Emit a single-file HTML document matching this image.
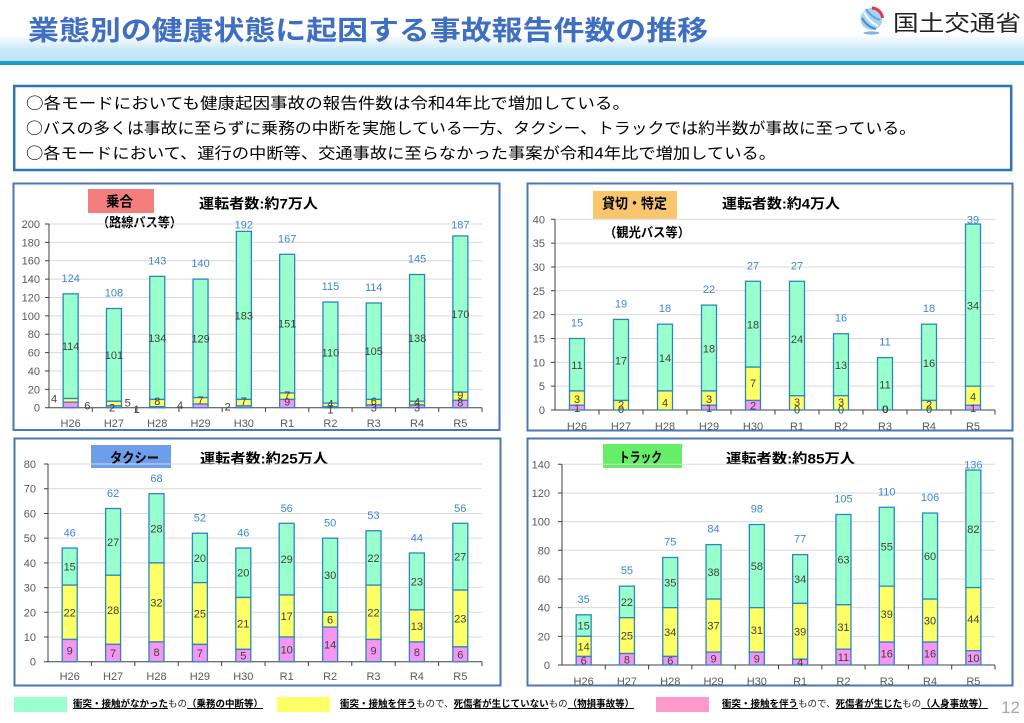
<!DOCTYPE html>
<html lang="ja">
<head>
<meta charset="utf-8">
<style>
html,body{margin:0;padding:0;background:#fff;}
body{width:1024px;height:723px;position:relative;overflow:hidden;font-family:"Liberation Sans","Noto Sans CJK JP",sans-serif;}
svg{position:absolute;left:0;top:0;}
.g{fill:#99ffcc;stroke:#2e86c1;stroke-width:1.3}
.y{fill:#ffff66;stroke:#2e86c1;stroke-width:1.3}
.p{fill:#f596f0;stroke:#2e86c1;stroke-width:1.3}
.grid{stroke:#d9d9d9;stroke-width:1}
.ax{stroke:#404040;stroke-width:1;fill:none}
.tk{font-family:"Liberation Sans",sans-serif;font-size:11px;fill:#595959;text-anchor:end}
.cat{font-family:"Liberation Sans",sans-serif;font-size:11px;fill:#595959;text-anchor:middle}
.dl{font-family:"Liberation Sans",sans-serif;font-size:11px;fill:#404040;text-anchor:middle}
.tot{font-family:"Liberation Sans",sans-serif;font-size:11px;fill:#3d87d0;text-anchor:middle}
.hd{font-family:"Liberation Sans","Noto Sans CJK JP",sans-serif;font-weight:bold;fill:#000}
.panel{fill:none;stroke:#4a78b0;stroke-width:2}
.leg{position:absolute;font-family:"Liberation Sans","Noto Sans CJK JP",sans-serif;font-size:9.5px;line-height:13px;white-space:nowrap;color:#222;}
.leg b{text-decoration:underline;color:#000;}
.sw{position:absolute;height:15px;width:53px;}
.circ{font-family:"Noto Sans CJK JP",sans-serif;}
</style>
</head>
<body>
<svg width="1024" height="723" viewBox="0 0 1024 723" xmlns="http://www.w3.org/2000/svg">
<defs>
<linearGradient id="band" x1="0" y1="0" x2="0" y2="1">
<stop offset="0" stop-color="#ffffff"/>
<stop offset="0.35" stop-color="#e2f2fb"/>
<stop offset="0.6" stop-color="#c6e8f7"/>
<stop offset="1" stop-color="#bde5f5"/>
</linearGradient>
</defs>

<!-- header -->
<rect x="0" y="34" width="1024" height="27" fill="url(#band)"/>
<rect x="0" y="61" width="1024" height="4" fill="#1b9fd3"/>
<text x="28" y="39.8" font-size="27" font-weight="bold" fill="#3f6fc2" textLength="680" lengthAdjust="spacingAndGlyphs" style="font-family:'Liberation Sans','Noto Sans CJK JP',sans-serif">業態別の健康状態に起因する事故報告件数の推移</text>

<!-- logo -->
<circle cx="871.5" cy="19" r="11" fill="#a9d2f2"/>
<path d="M864 12 Q869 22 878 26" stroke="#ffffff" stroke-width="2" fill="none"/>
<path d="M862 18 Q867 27 876 29" stroke="#3f8fd8" stroke-width="2" fill="none"/>
<path d="M866 9 Q871 17 880 20" stroke="#5aa6e6" stroke-width="2" fill="none"/>
<path d="M872 8 A11 11 0 0 1 882.5 18" stroke="#e5383d" stroke-width="3" fill="none"/>
<ellipse cx="871.5" cy="33" rx="8" ry="1.6" fill="#7ab6e6"/>
<text x="893" y="31" font-size="22" fill="#222" textLength="128" lengthAdjust="spacingAndGlyphs" style="font-family:'Liberation Sans','Noto Sans CJK JP',sans-serif">国土交通省</text>

<!-- summary box -->
<rect x="14.2" y="86" width="997" height="84" fill="#fff" stroke="#2e75b6" stroke-width="2.5"/>
<g style="font-family:'Liberation Sans','Noto Sans CJK JP',sans-serif" font-size="15.5" fill="#000">
<text x="26" y="108.7" textLength="604" lengthAdjust="spacingAndGlyphs"><tspan class="circ">○</tspan>各モードにおいても健康起因事故の報告件数は令和4年比で増加している。</text>
<text x="26" y="133.7" textLength="890" lengthAdjust="spacingAndGlyphs"><tspan class="circ">○</tspan>バスの多くは事故に至らずに乗務の中断を実施している一方、タクシー、トラックでは約半数が事故に至っている。</text>
<text x="26" y="158.7" textLength="750" lengthAdjust="spacingAndGlyphs"><tspan class="circ">○</tspan>各モードにおいて、運行の中断等、交通事故に至らなかった事案が令和4年比で増加している。</text>
</g>

<!-- ================= Chart A: 乗合 ================= -->
<rect class="panel" x="13.5" y="183.5" width="486" height="246.5"/>
<rect x="88" y="189" width="66" height="24" fill="#f47e7e"/>
<text class="hd" x="106" y="206.3" font-size="14" textLength="27" lengthAdjust="spacingAndGlyphs">乗合</text>
<text class="hd" x="199" y="208.3" font-size="14" textLength="119" lengthAdjust="spacingAndGlyphs">運転者数:約7万人</text>
<text class="hd" x="97" y="227" font-size="13" textLength="85" lengthAdjust="spacingAndGlyphs">（路線バス等）</text>
<g>
<line class="grid" x1="49" x2="482" y1="389.33" y2="389.33"/>
<line class="grid" x1="49" x2="482" y1="370.96" y2="370.96"/>
<line class="grid" x1="49" x2="482" y1="352.59" y2="352.59"/>
<line class="grid" x1="49" x2="482" y1="334.22" y2="334.22"/>
<line class="grid" x1="49" x2="482" y1="315.85" y2="315.85"/>
<line class="grid" x1="49" x2="482" y1="297.48" y2="297.48"/>
<line class="grid" x1="49" x2="482" y1="279.11" y2="279.11"/>
<line class="grid" x1="49" x2="482" y1="260.74" y2="260.74"/>
<line class="grid" x1="49" x2="482" y1="242.37" y2="242.37"/>
<line class="grid" x1="49" x2="482" y1="224" y2="224"/>
</g>
<path class="ax" d="M49 224V407.7H482 M45 224H49 M45 242.37H49 M45 260.74H49 M45 279.11H49 M45 297.48H49 M45 315.85H49 M45 334.22H49 M45 352.59H49 M45 370.96H49 M45 389.33H49 M45 407.7H49 M92.3 407.7V412 M135.6 407.7V412 M178.9 407.7V412 M222.2 407.7V412 M265.5 407.7V412 M308.8 407.7V412 M352.1 407.7V412 M395.4 407.7V412 M438.7 407.7V412 M482 407.7V412"/>
<g class="tk">
<text class="tk" x="40" y="411.7">0</text><text class="tk" x="40" y="393.3">20</text><text class="tk" x="40" y="375">40</text><text class="tk" x="40" y="356.6">60</text><text class="tk" x="40" y="338.2">80</text><text class="tk" x="40" y="319.9">100</text><text class="tk" x="40" y="301.5">120</text><text class="tk" x="40" y="283.1">140</text><text class="tk" x="40" y="264.7">160</text><text class="tk" x="40" y="246.4">180</text><text class="tk" x="40" y="228">200</text>
</g>
<!-- bars A -->
<rect class="g" x="63.15" y="293.81" width="15" height="104.71"/><rect class="y" x="63.15" y="398.52" width="15" height="3.67"/><rect class="p" x="63.15" y="402.19" width="15" height="5.51"/>
<rect class="g" x="106.45" y="308.5" width="15" height="92.77"/><rect class="y" x="106.45" y="401.27" width="15" height="4.59"/><rect class="p" x="106.45" y="405.86" width="15" height="1.84"/>
<rect class="g" x="149.75" y="276.35" width="15" height="123.08"/><rect class="y" x="149.75" y="399.43" width="15" height="7.35"/><rect class="p" x="149.75" y="406.78" width="15" height="0.92"/>
<rect class="g" x="193.05" y="279.11" width="15" height="118.49"/><rect class="y" x="193.05" y="397.6" width="15" height="6.43"/><rect class="p" x="193.05" y="404.03" width="15" height="3.67"/>
<rect class="g" x="236.35" y="231.35" width="15" height="168.08"/><rect class="y" x="236.35" y="399.43" width="15" height="6.43"/><rect class="p" x="236.35" y="405.86" width="15" height="1.84"/>
<rect class="g" x="279.65" y="254.31" width="15" height="138.69"/><rect class="y" x="279.65" y="393" width="15" height="6.43"/><rect class="p" x="279.65" y="399.43" width="15" height="8.27"/>
<rect class="g" x="322.95" y="302.07" width="15" height="101.04"/><rect class="y" x="322.95" y="403.11" width="15" height="3.67"/><rect class="p" x="322.95" y="406.78" width="15" height="0.92"/>
<rect class="g" x="366.25" y="302.99" width="15" height="96.44"/><rect class="y" x="366.25" y="399.43" width="15" height="5.51"/><rect class="p" x="366.25" y="404.94" width="15" height="2.76"/>
<rect class="g" x="409.55" y="274.52" width="15" height="126.75"/><rect class="y" x="409.55" y="401.27" width="15" height="3.67"/><rect class="p" x="409.55" y="404.94" width="15" height="2.76"/>
<rect class="g" x="452.85" y="235.94" width="15" height="156.15"/><rect class="y" x="452.85" y="392.09" width="15" height="8.26"/><rect class="p" x="452.85" y="400.35" width="15" height="7.35"/>
<g>
<text class="dl" x="70.65" y="350.2">114</text><text class="dl" x="113.95" y="358.9">101</text><text class="dl" x="157.25" y="341.9">134</text><text class="dl" x="200.55" y="342.4">129</text><text class="dl" x="243.85" y="319.4">183</text><text class="dl" x="287.15" y="327.7">151</text><text class="dl" x="330.45" y="356.6">110</text><text class="dl" x="373.75" y="355.2">105</text><text class="dl" x="417.05" y="341.9">138</text><text class="dl" x="460.35" y="318">170</text>
<text class="dl" x="54" y="402.3">4</text><text class="dl" x="87.3" y="409.3">6</text><text class="dl" x="112" y="411.7">2</text><text class="dl" x="127.7" y="406.7">5</text><text class="dl" x="136.7" y="413">1</text><text class="dl" x="157.25" y="405">8</text><text class="dl" x="180" y="409">4</text><text class="dl" x="200.55" y="404">7</text><text class="dl" x="227.7" y="410.7">2</text><text class="dl" x="243.85" y="405">7</text><text class="dl" x="287.15" y="399">7</text><text class="dl" x="287.15" y="405.7">9</text><text class="dl" x="330.45" y="407.3">4</text><text class="dl" x="330.45" y="413.3">1</text><text class="dl" x="373.75" y="405">6</text><text class="dl" x="373.75" y="411.7">3</text><text class="dl" x="417.05" y="405.7">4</text><text class="dl" x="417.05" y="411.7">3</text><text class="dl" x="460.35" y="399">9</text><text class="dl" x="460.35" y="406.7">8</text>
<text class="tot" x="70.65" y="281.8">124</text><text class="tot" x="113.95" y="296.5">108</text><text class="tot" x="157.25" y="264.3">143</text><text class="tot" x="200.55" y="267.1">140</text><text class="tot" x="243.85" y="228.3">192</text><text class="tot" x="287.15" y="242.3">167</text><text class="tot" x="330.45" y="290.1">115</text><text class="tot" x="373.75" y="291">114</text><text class="tot" x="417.05" y="262.5">145</text><text class="tot" x="460.35" y="228.3">187</text>
<text class="cat" x="70.65" y="427">H26</text><text class="cat" x="113.95" y="427">H27</text><text class="cat" x="157.25" y="427">H28</text><text class="cat" x="200.55" y="427">H29</text><text class="cat" x="243.85" y="427">H30</text><text class="cat" x="287.15" y="427">R1</text><text class="cat" x="330.45" y="427">R2</text><text class="cat" x="373.75" y="427">R3</text><text class="cat" x="417.05" y="427">R4</text><text class="cat" x="460.35" y="427">R5</text>
</g>

<!-- ================= Chart B: 貸切・特定 ================= -->
<rect class="panel" x="527.5" y="183.5" width="485" height="247"/>
<rect x="593" y="191" width="84" height="28" fill="#f9c66e"/>
<text class="hd" x="602" y="208.6" font-size="14" textLength="65" lengthAdjust="spacingAndGlyphs">貸切・特定</text>
<text class="hd" x="722" y="208.3" font-size="14" textLength="118" lengthAdjust="spacingAndGlyphs">運転者数:約4万人</text>
<text class="hd" x="604" y="237" font-size="13" textLength="86" lengthAdjust="spacingAndGlyphs">（観光バス等）</text>
<g>
<line class="grid" x1="555" x2="995" y1="386.16" y2="386.16"/>
<line class="grid" x1="555" x2="995" y1="362.33" y2="362.33"/>
<line class="grid" x1="555" x2="995" y1="338.49" y2="338.49"/>
<line class="grid" x1="555" x2="995" y1="314.65" y2="314.65"/>
<line class="grid" x1="555" x2="995" y1="290.81" y2="290.81"/>
<line class="grid" x1="555" x2="995" y1="266.98" y2="266.98"/>
<line class="grid" x1="555" x2="995" y1="243.14" y2="243.14"/>
<line class="grid" x1="555" x2="995" y1="219.3" y2="219.3"/>
</g>
<path class="ax" d="M555 219.3V410H995 M551 219.3H555 M551 243.14H555 M551 266.98H555 M551 290.81H555 M551 314.65H555 M551 338.49H555 M551 362.33H555 M551 386.16H555 M551 410H555 M599 410V414.5 M643 410V414.5 M687 410V414.5 M731 410V414.5 M775 410V414.5 M819 410V414.5 M863 410V414.5 M907 410V414.5 M951 410V414.5 M995 410V414.5"/>
<text class="tk" x="545" y="414">0</text><text class="tk" x="545" y="390.2">5</text><text class="tk" x="545" y="366.3">10</text><text class="tk" x="545" y="342.5">15</text><text class="tk" x="545" y="318.7">20</text><text class="tk" x="545" y="294.8">25</text><text class="tk" x="545" y="271">30</text><text class="tk" x="545" y="247.1">35</text><text class="tk" x="545" y="223.3">40</text>
<!-- bars B -->
<rect class="g" x="569.5" y="338.49" width="15" height="52.44"/><rect class="y" x="569.5" y="390.93" width="15" height="14.3"/><rect class="p" x="569.5" y="405.23" width="15" height="4.77"/>
<rect class="g" x="613.5" y="319.42" width="15" height="81.05"/><rect class="y" x="613.5" y="400.47" width="15" height="9.53"/>
<rect class="g" x="657.5" y="324.19" width="15" height="66.74"/><rect class="y" x="657.5" y="390.93" width="15" height="19.07"/>
<rect class="g" x="701.5" y="305.12" width="15" height="85.81"/><rect class="y" x="701.5" y="390.93" width="15" height="14.3"/><rect class="p" x="701.5" y="405.23" width="15" height="4.77"/>
<rect class="g" x="745.5" y="281.28" width="15" height="85.81"/><rect class="y" x="745.5" y="367.09" width="15" height="33.38"/><rect class="p" x="745.5" y="400.47" width="15" height="9.53"/>
<rect class="g" x="789.5" y="281.28" width="15" height="114.42"/><rect class="y" x="789.5" y="395.7" width="15" height="14.3"/>
<rect class="g" x="833.5" y="333.72" width="15" height="61.98"/><rect class="y" x="833.5" y="395.7" width="15" height="14.3"/>
<rect class="g" x="877.5" y="357.56" width="15" height="52.44"/>
<rect class="g" x="921.5" y="324.19" width="15" height="76.28"/><rect class="y" x="921.5" y="400.47" width="15" height="9.53"/>
<rect class="g" x="965.5" y="224.07" width="15" height="162.09"/><rect class="y" x="965.5" y="386.16" width="15" height="19.07"/><rect class="p" x="965.5" y="405.23" width="15" height="4.77"/>
<g>
<text class="dl" x="577" y="369.2">11</text><text class="dl" x="621" y="364.4">17</text><text class="dl" x="665" y="362.1">14</text><text class="dl" x="709" y="352.5">18</text><text class="dl" x="753" y="328.7">18</text><text class="dl" x="797" y="343">24</text><text class="dl" x="841" y="369.2">13</text><text class="dl" x="885" y="388.3">11</text><text class="dl" x="929" y="366.8">16</text><text class="dl" x="973" y="309.6">34</text>
<text class="dl" x="577" y="403">3</text><text class="dl" x="621" y="408.5">2</text><text class="dl" x="665" y="406.5">4</text><text class="dl" x="709" y="403">3</text><text class="dl" x="753" y="387">7</text><text class="dl" x="797" y="406">3</text><text class="dl" x="841" y="406">3</text><text class="dl" x="929" y="408.5">2</text><text class="dl" x="973" y="400.5">4</text>
<text class="dl" x="577" y="412">1</text><text class="dl" x="709" y="412">1</text><text class="dl" x="753" y="409.5">2</text><text class="dl" x="973" y="412">1</text>
<text class="dl" x="621" y="413">0</text><text class="dl" x="797" y="413.3">0</text><text class="dl" x="841" y="413.3">0</text><text class="dl" x="885" y="413">0</text><text class="dl" x="885.5" y="413">0</text><text class="dl" x="929" y="413">0</text>
<text class="tot" x="577" y="326.5">15</text><text class="tot" x="621" y="307.4">19</text><text class="tot" x="665" y="312.2">18</text><text class="tot" x="709" y="293.1">22</text><text class="tot" x="753" y="269.3">27</text><text class="tot" x="797" y="269.3">27</text><text class="tot" x="841" y="321.7">16</text><text class="tot" x="885" y="345.6">11</text><text class="tot" x="929" y="312.2">18</text><text class="tot" x="973" y="223.3">39</text>
<text class="cat" x="577" y="430">H26</text><text class="cat" x="621" y="430">H27</text><text class="cat" x="665" y="430">H28</text><text class="cat" x="709" y="430">H29</text><text class="cat" x="753" y="430">H30</text><text class="cat" x="797" y="430">R1</text><text class="cat" x="841" y="430">R2</text><text class="cat" x="885" y="430">R3</text><text class="cat" x="929" y="430">R4</text><text class="cat" x="973" y="430">R5</text>
</g>

<!-- ================= Chart C: タクシー ================= -->
<rect class="panel" x="14.5" y="438.5" width="486" height="247"/>
<rect x="91" y="445" width="80" height="23" fill="#6d9eeb"/>
<text class="hd" x="110" y="463" font-size="14" textLength="49" lengthAdjust="spacingAndGlyphs">タクシー</text>
<text class="hd" x="200" y="463.3" font-size="14" textLength="128" lengthAdjust="spacingAndGlyphs">運転者数:約25万人</text>
<g>
<line class="grid" x1="48" x2="482" y1="636.99" y2="636.99"/>
<line class="grid" x1="48" x2="482" y1="612.28" y2="612.28"/>
<line class="grid" x1="48" x2="482" y1="587.57" y2="587.57"/>
<line class="grid" x1="48" x2="482" y1="562.86" y2="562.86"/>
<line class="grid" x1="48" x2="482" y1="538.15" y2="538.15"/>
<line class="grid" x1="48" x2="482" y1="513.44" y2="513.44"/>
<line class="grid" x1="48" x2="482" y1="488.73" y2="488.73"/>
<line class="grid" x1="48" x2="482" y1="464.02" y2="464.02"/>
</g>
<path class="ax" d="M48 464V661.7H482 M44 464.02H48 M44 488.73H48 M44 513.44H48 M44 538.15H48 M44 562.86H48 M44 587.57H48 M44 612.28H48 M44 636.99H48 M44 661.7H48 M91.4 661.7V666 M134.8 661.7V666 M178.2 661.7V666 M221.6 661.7V666 M265 661.7V666 M308.4 661.7V666 M351.8 661.7V666 M395.2 661.7V666 M438.6 661.7V666 M482 661.7V666"/>
<text class="tk" x="36" y="665.7">0</text><text class="tk" x="36" y="641">10</text><text class="tk" x="36" y="616.3">20</text><text class="tk" x="36" y="591.6">30</text><text class="tk" x="36" y="566.9">40</text><text class="tk" x="36" y="542.2">50</text><text class="tk" x="36" y="517.4">60</text><text class="tk" x="36" y="492.7">70</text><text class="tk" x="36" y="468">80</text>
<!-- bars C -->
<rect class="g" x="62.2" y="548.03" width="15" height="37.07"/><rect class="y" x="62.2" y="585.1" width="15" height="54.36"/><rect class="p" x="62.2" y="639.46" width="15" height="22.24"/>
<rect class="g" x="105.6" y="508.5" width="15" height="66.72"/><rect class="y" x="105.6" y="575.22" width="15" height="69.18"/><rect class="p" x="105.6" y="644.4" width="15" height="17.3"/>
<rect class="g" x="149" y="493.67" width="15" height="69.19"/><rect class="y" x="149" y="562.86" width="15" height="79.07"/><rect class="p" x="149" y="641.93" width="15" height="19.77"/>
<rect class="g" x="192.4" y="533.21" width="15" height="49.42"/><rect class="y" x="192.4" y="582.63" width="15" height="61.77"/><rect class="p" x="192.4" y="644.4" width="15" height="17.3"/>
<rect class="g" x="235.8" y="548.03" width="15" height="49.42"/><rect class="y" x="235.8" y="597.45" width="15" height="51.9"/><rect class="p" x="235.8" y="649.35" width="15" height="12.35"/>
<rect class="g" x="279.2" y="523.32" width="15" height="71.66"/><rect class="y" x="279.2" y="594.98" width="15" height="42.01"/><rect class="p" x="279.2" y="636.99" width="15" height="24.71"/>
<rect class="g" x="322.6" y="538.15" width="15" height="74.13"/><rect class="y" x="322.6" y="612.28" width="15" height="14.83"/><rect class="p" x="322.6" y="627.11" width="15" height="34.59"/>
<rect class="g" x="366" y="530.74" width="15" height="54.36"/><rect class="y" x="366" y="585.1" width="15" height="54.36"/><rect class="p" x="366" y="639.46" width="15" height="22.24"/>
<rect class="g" x="409.4" y="552.98" width="15" height="56.83"/><rect class="y" x="409.4" y="609.81" width="15" height="32.12"/><rect class="p" x="409.4" y="641.93" width="15" height="19.77"/>
<rect class="g" x="452.8" y="523.32" width="15" height="66.72"/><rect class="y" x="452.8" y="590.04" width="15" height="56.83"/><rect class="p" x="452.8" y="646.87" width="15" height="14.83"/>
<g>
<text class="dl" x="69.7" y="570.6">15</text><text class="dl" x="113.1" y="545.9">27</text><text class="dl" x="156.5" y="532.3">28</text><text class="dl" x="199.9" y="561.9">20</text><text class="dl" x="243.3" y="576.7">20</text><text class="dl" x="286.7" y="563.2">29</text><text class="dl" x="330.1" y="579.2">30</text><text class="dl" x="373.5" y="561.9">22</text><text class="dl" x="416.9" y="585.4">23</text><text class="dl" x="460.3" y="560.7">27</text>
<text class="dl" x="69.7" y="616.3">22</text><text class="dl" x="113.1" y="613.8">28</text><text class="dl" x="156.5" y="606.4">32</text><text class="dl" x="199.9" y="617.5">25</text><text class="dl" x="243.3" y="627.4">21</text><text class="dl" x="286.7" y="620">17</text><text class="dl" x="330.1" y="623.7">6</text><text class="dl" x="373.5" y="616.3">22</text><text class="dl" x="416.9" y="629.9">13</text><text class="dl" x="460.3" y="622.5">23</text>
<text class="dl" x="69.7" y="654.6">9</text><text class="dl" x="113.1" y="657.1">7</text><text class="dl" x="156.5" y="655.8">8</text><text class="dl" x="199.9" y="657.1">7</text><text class="dl" x="243.3" y="659.5">5</text><text class="dl" x="286.7" y="653.3">10</text><text class="dl" x="330.1" y="648.4">14</text><text class="dl" x="373.5" y="654.6">9</text><text class="dl" x="416.9" y="655.8">8</text><text class="dl" x="460.3" y="658.3">6</text>
<text class="tot" x="69.7" y="536.5">46</text><text class="tot" x="113.1" y="497">62</text><text class="tot" x="156.5" y="482.2">68</text><text class="tot" x="199.9" y="521.7">52</text><text class="tot" x="243.3" y="536.5">46</text><text class="tot" x="286.7" y="511.8">56</text><text class="tot" x="330.1" y="526.7">50</text><text class="tot" x="373.5" y="519.2">53</text><text class="tot" x="416.9" y="541.5">44</text><text class="tot" x="460.3" y="511.8">56</text>
<text class="cat" x="69.7" y="680">H26</text><text class="cat" x="113.1" y="680">H27</text><text class="cat" x="156.5" y="680">H28</text><text class="cat" x="199.9" y="680">H29</text><text class="cat" x="243.3" y="680">H30</text><text class="cat" x="286.7" y="680">R1</text><text class="cat" x="330.1" y="680">R2</text><text class="cat" x="373.5" y="680">R3</text><text class="cat" x="416.9" y="680">R4</text><text class="cat" x="460.3" y="680">R5</text>
</g>

<!-- ================= Chart D: トラック ================= -->
<rect class="panel" x="527.5" y="438.5" width="485" height="247"/>
<rect x="603" y="444" width="79" height="24" fill="#66ee66"/>
<text class="hd" x="619" y="462.3" font-size="14" textLength="43" lengthAdjust="spacingAndGlyphs">トラック</text>
<text class="hd" x="726" y="463.3" font-size="14" textLength="129" lengthAdjust="spacingAndGlyphs">運転者数:約85万人</text>
<g>
<line class="grid" x1="562" x2="995" y1="636.33" y2="636.33"/>
<line class="grid" x1="562" x2="995" y1="607.66" y2="607.66"/>
<line class="grid" x1="562" x2="995" y1="578.98" y2="578.98"/>
<line class="grid" x1="562" x2="995" y1="550.31" y2="550.31"/>
<line class="grid" x1="562" x2="995" y1="521.64" y2="521.64"/>
<line class="grid" x1="562" x2="995" y1="492.97" y2="492.97"/>
<line class="grid" x1="562" x2="995" y1="464.3" y2="464.3"/>
</g>
<path class="ax" d="M562 464.3V665H995 M558 464.3H562 M558 492.97H562 M558 521.64H562 M558 550.31H562 M558 578.98H562 M558 607.66H562 M558 636.33H562 M558 665H562 M605.3 665V669.5 M648.6 665V669.5 M691.9 665V669.5 M735.2 665V669.5 M778.5 665V669.5 M821.8 665V669.5 M865.1 665V669.5 M908.4 665V669.5 M951.7 665V669.5 M995 665V669.5"/>
<text class="tk" x="550" y="669">0</text><text class="tk" x="550" y="640.3">20</text><text class="tk" x="550" y="611.7">40</text><text class="tk" x="550" y="583">60</text><text class="tk" x="550" y="554.3">80</text><text class="tk" x="550" y="525.6">100</text><text class="tk" x="550" y="497">120</text><text class="tk" x="550" y="468.3">140</text>
<!-- bars D -->
<rect class="g" x="576.15" y="614.82" width="15" height="21.51"/><rect class="y" x="576.15" y="636.33" width="15" height="20.07"/><rect class="p" x="576.15" y="656.4" width="15" height="8.6"/>
<rect class="g" x="619.45" y="586.15" width="15" height="31.54"/><rect class="y" x="619.45" y="617.69" width="15" height="35.84"/><rect class="p" x="619.45" y="653.53" width="15" height="11.47"/>
<rect class="g" x="662.75" y="557.48" width="15" height="50.18"/><rect class="y" x="662.75" y="607.66" width="15" height="48.74"/><rect class="p" x="662.75" y="656.4" width="15" height="8.6"/>
<rect class="g" x="706.05" y="544.58" width="15" height="54.47"/><rect class="y" x="706.05" y="599.05" width="15" height="53.05"/><rect class="p" x="706.05" y="652.1" width="15" height="12.9"/>
<rect class="g" x="749.35" y="524.51" width="15" height="83.15"/><rect class="y" x="749.35" y="607.66" width="15" height="44.44"/><rect class="p" x="749.35" y="652.1" width="15" height="12.9"/>
<rect class="g" x="792.65" y="554.61" width="15" height="48.75"/><rect class="y" x="792.65" y="603.36" width="15" height="55.91"/><rect class="p" x="792.65" y="659.27" width="15" height="5.73"/>
<rect class="g" x="835.95" y="514.47" width="15" height="90.32"/><rect class="y" x="835.95" y="604.79" width="15" height="44.44"/><rect class="p" x="835.95" y="649.23" width="15" height="15.77"/>
<rect class="g" x="879.25" y="507.3" width="15" height="78.85"/><rect class="y" x="879.25" y="586.15" width="15" height="55.91"/><rect class="p" x="879.25" y="642.06" width="15" height="22.94"/>
<rect class="g" x="922.55" y="513.04" width="15" height="86.01"/><rect class="y" x="922.55" y="599.05" width="15" height="43.01"/><rect class="p" x="922.55" y="642.06" width="15" height="22.94"/>
<rect class="g" x="965.85" y="470.03" width="15" height="117.56"/><rect class="y" x="965.85" y="587.59" width="15" height="63.07"/><rect class="p" x="965.85" y="650.66" width="15" height="14.34"/>
<g>
<text class="dl" x="583.65" y="629.6">15</text><text class="dl" x="626.95" y="605.9">22</text><text class="dl" x="670.25" y="586.6">35</text><text class="dl" x="713.55" y="575.8">38</text><text class="dl" x="756.85" y="570.1">58</text><text class="dl" x="800.15" y="583">34</text><text class="dl" x="843.45" y="563.6">63</text><text class="dl" x="886.75" y="550.7">55</text><text class="dl" x="930.05" y="560">60</text><text class="dl" x="973.35" y="532.8">82</text>
<text class="dl" x="583.65" y="650.4">14</text><text class="dl" x="626.95" y="639.6">25</text><text class="dl" x="670.25" y="636">34</text><text class="dl" x="713.55" y="629.6">37</text><text class="dl" x="756.85" y="633.9">31</text><text class="dl" x="800.15" y="635.3">39</text><text class="dl" x="843.45" y="631">31</text><text class="dl" x="886.75" y="618.1">39</text><text class="dl" x="930.05" y="624.6">30</text><text class="dl" x="973.35" y="623.1">44</text>
<text class="dl" x="583.65" y="664.7">6</text><text class="dl" x="626.95" y="663.3">8</text><text class="dl" x="670.25" y="664.7">6</text><text class="dl" x="713.55" y="662.6">9</text><text class="dl" x="756.85" y="662.6">9</text><text class="dl" x="800.15" y="666.1">4</text><text class="dl" x="843.45" y="661.1">11</text><text class="dl" x="886.75" y="657.5">16</text><text class="dl" x="930.05" y="657.5">16</text><text class="dl" x="973.35" y="661.8">10</text>
<text class="tot" x="583.65" y="602.8">35</text><text class="tot" x="626.95" y="574.2">55</text><text class="tot" x="670.25" y="545.5">75</text><text class="tot" x="713.55" y="532.6">84</text><text class="tot" x="756.85" y="512.5">98</text><text class="tot" x="800.15" y="542.6">77</text><text class="tot" x="843.45" y="502.5">105</text><text class="tot" x="886.75" y="495.3">110</text><text class="tot" x="930.05" y="501">106</text><text class="tot" x="973.35" y="468.3">136</text>
<text class="cat" x="583.65" y="685">H26</text><text class="cat" x="626.95" y="685">H27</text><text class="cat" x="670.25" y="685">H28</text><text class="cat" x="713.55" y="685">H29</text><text class="cat" x="756.85" y="685">H30</text><text class="cat" x="800.15" y="685">R1</text><text class="cat" x="843.45" y="685">R2</text><text class="cat" x="886.75" y="685">R3</text><text class="cat" x="930.05" y="685">R4</text><text class="cat" x="973.35" y="685">R5</text>
</g>

<!-- page number -->
<text x="1020" y="713" font-size="17" fill="#a6a6a6" text-anchor="end" style="font-family:'Liberation Sans',sans-serif">12</text>
</svg>

<!-- legend -->
<div class="sw" style="left:14px;top:697px;background:#99ffcc;"></div>
<div class="leg" style="left:73px;top:698px;"><b>衝突・接触がなかった</b>もの<b>（乗務の中断等）</b></div>
<div class="sw" style="left:277px;top:697px;background:#ffff66;"></div>
<div class="leg" style="left:340px;top:698px;"><b>衝突・接触を伴う</b>もので、<b>死傷者が生じていない</b>もの<b>（物損事故等）</b></div>
<div class="sw" style="left:656px;top:697px;background:#ff99cc;"></div>
<div class="leg" style="left:722px;top:698px;"><b>衝突・接触を伴う</b>もので、<b>死傷者が生じた</b>もの<b>（人身事故等）</b></div>
</body>
</html>
